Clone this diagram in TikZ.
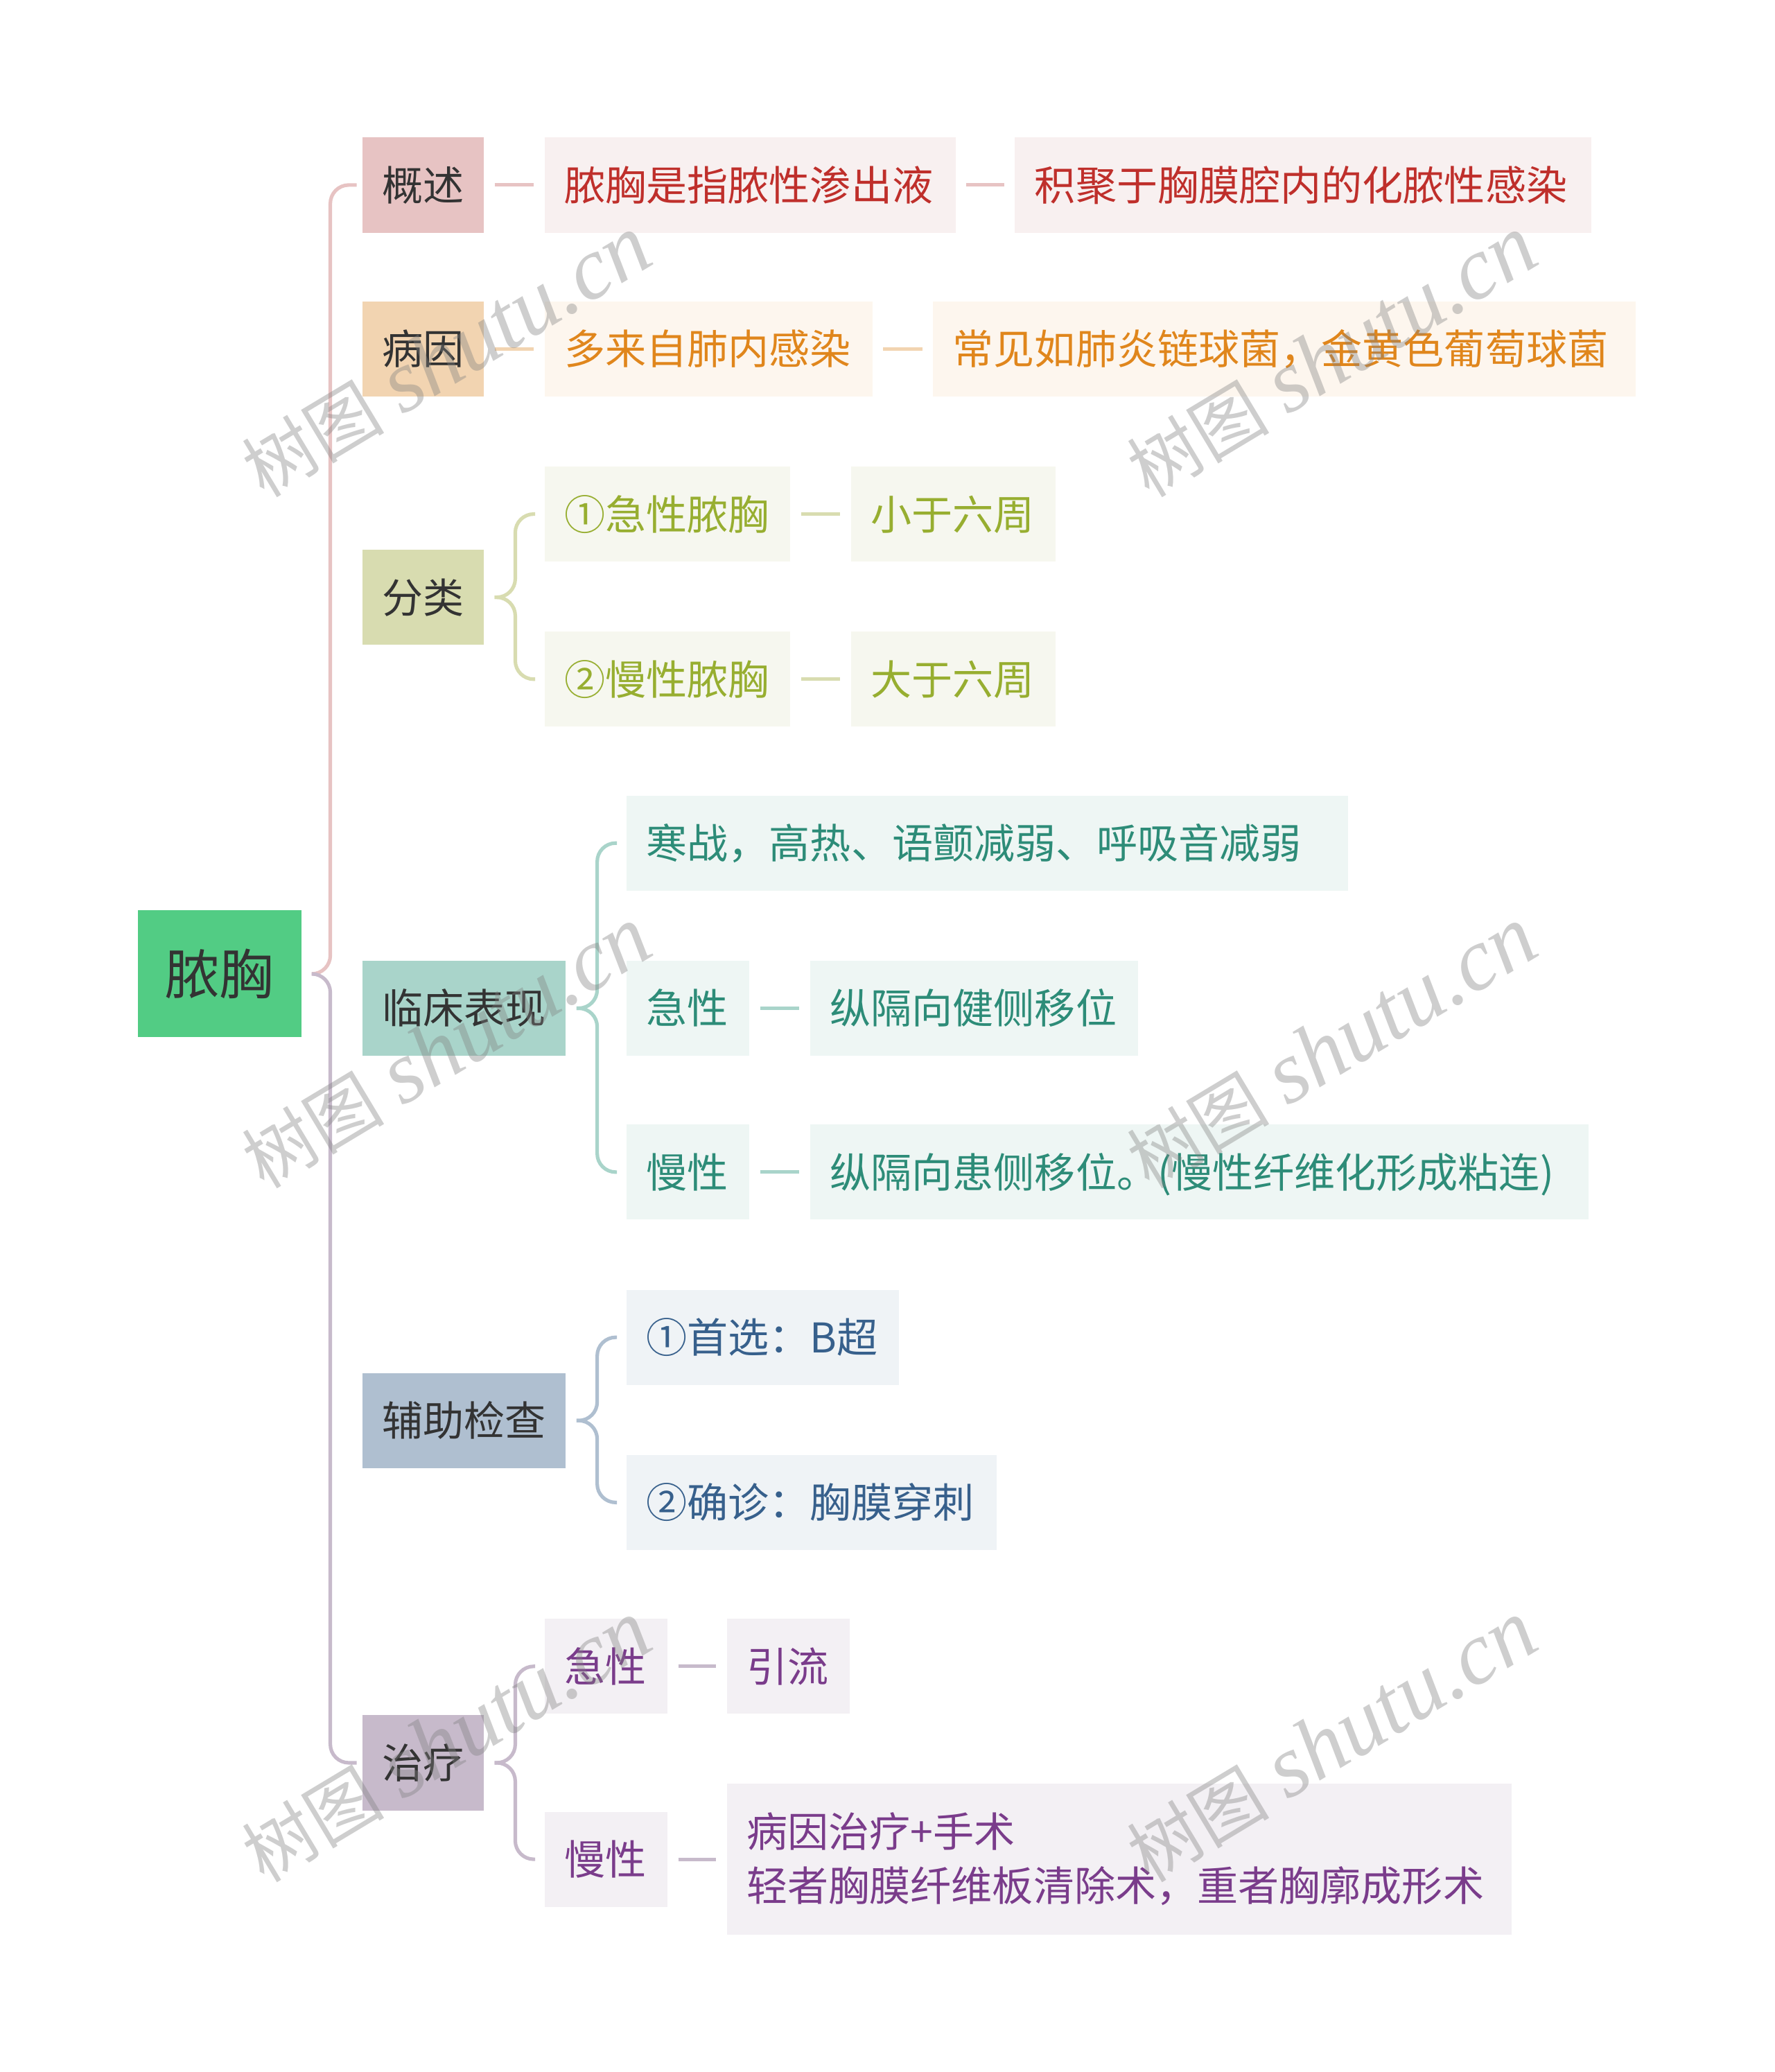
\documentclass[tikz,border=0pt]{standalone}
\usepackage{fontspec}
\setmainfont{Noto Sans CJK SC}
\newfontfamily\wmlatin{Liberation Serif}
\definecolor{dark}{HTML}{333333}
\definecolor{rootg}{HTML}{52CC84}
\definecolor{c1}{HTML}{E7C3C3}\definecolor{c1l}{HTML}{F8F0F0}\definecolor{c1t}{HTML}{BF2F2B}
\definecolor{c2}{HTML}{F2D4B1}\definecolor{c2l}{HTML}{FDF6EE}\definecolor{c2t}{HTML}{E0861C}
\definecolor{c3}{HTML}{D8DCB0}\definecolor{c3l}{HTML}{F6F7EF}\definecolor{c3t}{HTML}{97AE30}
\definecolor{c4}{HTML}{A9D4CA}\definecolor{c4l}{HTML}{EEF6F4}\definecolor{c4t}{HTML}{2D8C78}
\definecolor{c5}{HTML}{AFBFD0}\definecolor{c5l}{HTML}{EFF3F6}\definecolor{c5t}{HTML}{37608C}
\definecolor{c6}{HTML}{C7BACB}\definecolor{c6l}{HTML}{F3F0F4}\definecolor{c6t}{HTML}{7A3C8B}
\definecolor{wmgray}{HTML}{808080}
\tikzset{
  box/.style={rectangle, anchor=west, inner xsep=15pt, inner ysep=0pt,
    minimum height=72pt, text height=26pt, text depth=2.4pt,
    font=\fontsize{31}{41}\selectfont},
  lone/.style={box, fill=#1, text=dark},
  ltwo/.style 2 args={box, fill=#1, text=#2},
  tw/.style={text width=#1, align=left},
  ln/.style={draw=#1, line width=2.7pt, rounded corners=14pt},
  wm/.style={rotate=31, text=wmgray, opacity=0.38, inner sep=0pt},
}
\newcommand{\wmtext}{{\fontsize{54}{54}\selectfont 树图}\hspace{14pt}{\wmlatin\itshape\fontsize{67}{67}\selectfont shutu.cn}}
\begin{document}
\begin{tikzpicture}[x=1pt, y=-1pt]
\useasboundingbox (0,0) rectangle (1343,1568);
\fill[white] (0,0) rectangle (1343,1568);

% root
\node[box, anchor=west, fill=rootg, text=dark, inner xsep=21pt, minimum height=96pt,
  text height=33.5pt, text depth=2.3pt,
  font=\fontsize{41}{41}\selectfont] (root) at (104,737) {脓胸};

% level 1
\node[lone=c1] (gs) at (274,140) {概述};
\node[lone=c2] (by) at (274,264) {病因};
\node[lone=c3] (fl) at (274,452) {分类};
\node[lone=c4] (lc) at (274,763) {临床表现};
\node[lone=c5] (fz) at (274,1075) {辅助检查};
\node[lone=c6] (zl) at (274,1334) {治疗};

% 概述
\node[ltwo={c1l}{c1t}, tw=281pt] (gs1) at (412,140) {脓胸是指脓性渗出液};
\node[ltwo={c1l}{c1t}, tw=406pt] (gs2) at (768,140) {积聚于胸膜腔内的化脓性感染};
% 病因
\node[ltwo={c2l}{c2t}, tw=218pt] (by1) at (412,264) {多来自肺内感染};
\node[ltwo={c2l}{c2t}, tw=502pt] (by2) at (706,264) {常见如肺炎链球菌，金黄色葡萄球菌};
% 分类
\node[ltwo={c3l}{c3t}, tw=156pt] (fl1) at (412,389) {①急性脓胸};
\node[ltwo={c3l}{c3t}, tw=125pt] (fl1b) at (644,389) {小于六周};
\node[ltwo={c3l}{c3t}, tw=156pt] (fl2) at (412,514) {②慢性脓胸};
\node[ltwo={c3l}{c3t}, tw=125pt] (fl2b) at (644,514) {大于六周};
% 临床表现
\node[ltwo={c4l}{c4t}, tw=516pt] (lc1) at (474,638) {寒战，高热、语颤减弱、呼吸音减弱};
\node[ltwo={c4l}{c4t}, tw=63pt] (lc2) at (474,763) {急性};
\node[ltwo={c4l}{c4t}, tw=218pt] (lc2b) at (613,763) {纵隔向健侧移位};
\node[ltwo={c4l}{c4t}, tw=63pt] (lc3) at (474,887) {慢性};
\node[ltwo={c4l}{c4t}, tw=559pt] (lc3b) at (613,887) {纵隔向患侧移位。(慢性纤维化形成粘连)};
% 辅助检查
\node[ltwo={c5l}{c5t}, tw=176pt] (fz1) at (474,1012) {①首选：B超};
\node[ltwo={c5l}{c5t}, tw=250pt] (fz2) at (474,1137) {②确诊：胸膜穿刺};
% 治疗
\node[ltwo={c6l}{c6t}, tw=63pt] (zl1) at (412,1261) {急性};
\node[ltwo={c6l}{c6t}, tw=63pt] (zl1b) at (550,1261) {引流};
\node[ltwo={c6l}{c6t}, tw=63pt] (zl2) at (412,1407) {慢性};
\node[ltwo={c6l}{c6t}, text height=, text depth=, minimum height=114pt, tw=564pt] (zl2b) at (550,1407)
  {病因治疗+手术\\轻者胸膜纤维板清除术，重者胸廓成形术};

% trunk
\draw[ln=c1] ([xshift=8pt]root.east) -| ([xshift=-24pt]gs.west) -- ([xshift=-4pt]gs.west);
\draw[ln=c6] ([xshift=8pt]root.east) -| ([xshift=-24pt]zl.west) -- ([xshift=-4pt]zl.west);

% straight links
\draw[ln=c1] ([xshift=8pt]gs.east) -- ([xshift=-8pt]gs1.west);
\draw[ln=c1] ([xshift=8pt]gs1.east) -- ([xshift=-8pt]gs2.west);
\draw[ln=c2] ([xshift=8pt]by.east) -- ([xshift=-8pt]by1.west);
\draw[ln=c2] ([xshift=8pt]by1.east) -- ([xshift=-8pt]by2.west);
\draw[ln=c3] ([xshift=8pt]fl1.east) -- ([xshift=-8pt]fl1b.west);
\draw[ln=c3] ([xshift=8pt]fl2.east) -- ([xshift=-8pt]fl2b.west);
\draw[ln=c4] ([xshift=8pt]lc2.east) -- ([xshift=-8pt]lc2b.west);
\draw[ln=c4] ([xshift=8pt]lc3.east) -- ([xshift=-8pt]lc3b.west);
\draw[ln=c6] ([xshift=8pt]zl1.east) -- ([xshift=-8pt]zl1b.west);
\draw[ln=c6] ([xshift=8pt]zl2.east) -- ([xshift=-8pt]zl2b.west);

% braces
\foreach \p/\c in {fl/fl1, fl/fl2}
  \draw[ln=c3] ([xshift=8pt]\p.east) -| ([xshift=-22pt]\c.west) -- ([xshift=-7pt]\c.west);
\foreach \p/\c in {lc/lc1, lc/lc3}
  \draw[ln=c4] ([xshift=8pt]\p.east) -| ([xshift=-22pt]\c.west) -- ([xshift=-7pt]\c.west);
\foreach \p/\c in {fz/fz1, fz/fz2}
  \draw[ln=c5] ([xshift=8pt]\p.east) -| ([xshift=-22pt]\c.west) -- ([xshift=-7pt]\c.west);
\foreach \p/\c in {zl/zl1, zl/zl2}
  \draw[ln=c6] ([xshift=8pt]\p.east) -| ([xshift=-22pt]\c.west) -- ([xshift=-7pt]\c.west);

% watermarks
\node[wm] (wm1) at (338,270) {\wmtext};
\node[wm] (wm2) at (1008,270) {\wmtext};
\node[wm] (wm3) at (338,793) {\wmtext};
\node[wm] (wm4) at (1008,793) {\wmtext};
\node[wm] (wm5) at (338,1318) {\wmtext};
\node[wm] (wm6) at (1008,1318) {\wmtext};
\end{tikzpicture}
\end{document}
